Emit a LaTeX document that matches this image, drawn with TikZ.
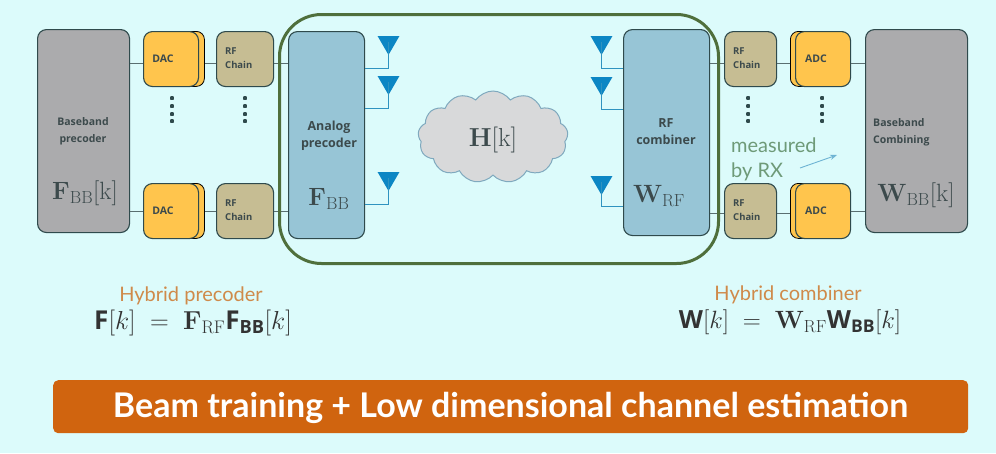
\RequirePackage{fix-cm}
\documentclass[tikz,border=0pt]{standalone}
\usepackage[no-math]{fontspec}
\usepackage{amsmath}
\setmainfont{Lato}
\setsansfont{Open Sans}
\usetikzlibrary{shapes.symbols,shapes.geometric,arrows.meta}
\definecolor{bgc}{HTML}{DCFBFB}
\definecolor{edgec}{HTML}{2F4A4C}
\definecolor{greyc}{HTML}{ABABAD}
\definecolor{dacc}{HTML}{FFC54D}
\definecolor{rfc}{HTML}{C6BD93}
\definecolor{bluec}{HTML}{97C5D6}
\definecolor{antc}{HTML}{0C86C4}
\definecolor{wirec}{HTML}{2F93C0}
\definecolor{greenc}{HTML}{4F6F3C}
\definecolor{orangec}{HTML}{D0640F}
\definecolor{labc}{HTML}{3C4A4C}
\definecolor{hybc}{HTML}{CF8A4A}
\definecolor{measc}{HTML}{6E9A78}
\definecolor{cloudc}{HTML}{D8D9DA}
\definecolor{cloude}{HTML}{7FA9BE}
\tikzset{
 x=1pt,y=-1pt,
 blockbox/.style={draw=edgec,line width=1.1pt,rounded corners=9pt,inner sep=0pt,anchor=north west},
 greybox/.style={blockbox,fill=greyc},
 rfbox/.style={blockbox,fill=rfc,minimum width=57pt,minimum height=55pt},
 convback/.style={draw=black,line width=.8pt,fill=dacc,rounded corners=8pt,inner sep=0pt,anchor=north west,minimum height=55pt},
 convfront/.style={blockbox,fill=dacc,minimum height=55pt},
 bluebox/.style={blockbox,fill=bluec},
 link/.style={draw=edgec!80,line width=.9pt},
 wire/.style={draw=wirec,line width=1pt},
 antshape/.style={draw=none,fill=antc,regular polygon,regular polygon sides=3,shape border rotate=180,inner sep=0pt,minimum size=24pt,anchor=north},
 tinylab/.style={font=\sffamily\bfseries\fontsize{9.5}{14}\selectfont,text=labc,align=left,inner sep=0pt},
 baselab/.style={font=\sffamily\bfseries\fontsize{10.5}{17}\selectfont,text=labc,inner sep=0pt},
 midlab/.style={font=\sffamily\bfseries\fontsize{12.5}{17}\selectfont,text=labc,align=center,inner sep=0pt},
 bigmath/.style={inner sep=0pt,text=labc},
 dotc/.style={draw=none,fill=edgec,rectangle,rounded corners=.8pt,minimum size=3.8pt,inner sep=0pt},
}
\begin{document}
\begin{tikzpicture}
\useasboundingbox (0,0) rectangle (996,453);
\fill[bgc] (0,0) rectangle (996,453);
% left column
\node[greybox,minimum width=92pt,minimum height=203pt] (bbl) at (37,29) {};
\node[convback,minimum width=58pt] (dacbA) at (146,31) {};
\node[convfront,minimum width=55pt] (dacA) at (143,31) {};
\node[convback,minimum width=58pt] (dacbB) at (146,183) {};
\node[convfront,minimum width=55pt] (dacB) at (143,183) {};
\node[rfbox] (rflA) at (216,31) {};
\node[rfbox] (rflB) at (216,183) {};
\node[bluebox,minimum width=76pt,minimum height=207pt] (ana) at (288,31) {};
% right column
\node[bluebox,minimum width=86pt,minimum height=206pt] (comb) at (623,29) {};
\node[rfbox,minimum width=52pt] (rfrA) at (724,31) {};
\node[rfbox,minimum width=52pt] (rfrB) at (724,183) {};
\node[convback,minimum width=58pt] (adcbA) at (790,31) {};
\node[convfront,minimum width=55pt] (adcA) at (795,31) {};
\node[convback,minimum width=58pt] (adcbB) at (790,183) {};
\node[convfront,minimum width=55pt] (adcB) at (795,183) {};
\node[greybox,minimum width=102pt,minimum height=203pt] (bbr) at (865,29) {};
% links
\foreach \a/\b/\yy in {bbl/dacA/63,bbl/dacB/211,dacbA/rflA/63,dacbB/rflB/211,rflA/ana/63,rflB/ana/211,comb/rfrA/63,comb/rfrB/213,rfrA/adcbA/63,rfrB/adcbB/213,adcA/bbr/63,adcB/bbr/211}{
 \coordinate (p) at (0,\yy);
 \draw[link] (\a.east |- p) -- (\b.west |- p);
}
% green frame
\node[draw=greenc,line width=3pt,rounded corners=42pt,minimum width=439pt,minimum height=249pt,inner sep=0pt,anchor=north west] (frame) at (278,13) {};
% antennas left
\foreach \n/\yt/\yl in {A/37/68,B/77/108,C/173/204}{
 \node[antshape,minimum size=25pt] (tx\n) at (388.5,\yt-1) {};
 \coordinate (txk\n) at (388.5,\yl);
 \draw[wire] (tx\n.center) -- (txk\n) -- (ana.east |- txk\n);
}
\foreach \n/\yt/\yl in {A/37/68,B/78/109,C/177/206}{
 \node[antshape,minimum size=25pt] (rx\n) at (601.5,\yt-1) {};
 \coordinate (rxk\n) at (601.5,\yl);
 \draw[wire] (rx\n.center) -- (rxk\n) -- (comb.west |- rxk\n);
}
% dots
\foreach \xx/\nm in {172/a,245/b,748/c,822/d}{
 \foreach \yy in {98,106,114,121}{ \node[dotc] (dot\nm\yy) at (\xx,\yy) {}; }
}
% cloud
\node[cloud,cloud puffs=13,cloud puff arc=110,aspect=1.6,draw=cloude,line width=1pt,fill=cloudc,minimum width=150pt,minimum height=92pt,inner sep=0pt] (chan) at (493,137) {};
\node[inner sep=0pt,text=labc] (chanlab) at (493,140) {\fontsize{26}{26}\selectfont$\mathbf{H}[\mathrm{k}]$};
% texts
\node[baselab,align=center] (lbase) at (83,131) {Baseband\\precoder};
\node[bigmath] (lfbb) at (85,193) {\fontsize{25}{25}\selectfont$\mathbf{F}_{\mathrm{BB}}[\mathrm{k}]$};
\node[baselab] at (163,59) (ldacA) {DAC};
\node[baselab] at (163,211) (ldacB) {DAC};
\node[tinylab,anchor=west] at (225,58) (lrfA) {RF\\Chain};
\node[tinylab,anchor=west] at (225,210) (lrfB) {RF\\Chain};
\node[midlab] at (329,136) (lana) {Analog\\precoder};
\node[bigmath] at (329,199) (lfrf) {\fontsize{25}{25}\selectfont$\mathbf{F}_{\mathrm{BB}}$};
\node[midlab] at (666,132) (lcomb) {RF\\combiner};
\node[bigmath] at (659,196) (lwrf) {\fontsize{25}{25}\selectfont$\mathbf{W}_{\mathrm{RF}}$};
\node[tinylab,anchor=west] at (733,58) (lrrA) {RF\\Chain};
\node[tinylab,anchor=west] at (733,210) (lrrB) {RF\\Chain};
\node[baselab] at (816,59) (ladcA) {ADC};
\node[baselab] at (816,211) (ladcB) {ADC};
\node[baselab,anchor=west,align=left] at (873,132) (lbbc) {Baseband\\Combining};
\node[bigmath] at (916,195) (lwbb) {\fontsize{25}{25}\selectfont$\mathbf{W}_{\mathrm{BB}}[\mathrm{k}]$};
% measured
\node[text=measc,font=\fontsize{20}{25}\selectfont,align=left,inner sep=0pt,anchor=west] (meas) at (731,159) {measured\\by RX};
\coordinate (mA) at (800,168);
\coordinate (mB) at (837,155);
\draw[-{Stealth[length=7pt,open]},draw=wirec!70,line width=.9pt] (mA) -- (mB);
% hybrid
\node[text=hybc,font=\fontsize{20}{22}\selectfont,inner sep=0pt] (hp) at (191,296) {Hybrid precoder};
\node[text=black!80,inner sep=0pt] (hpf) at (193,323) {\fontsize{26}{26}\selectfont$\textbf{\sffamily F}[k]\;=\;\mathbf{F}_{\mathrm{RF}}\textbf{\sffamily F}_{\textbf{\sffamily BB}}[k]$};
\node[text=hybc,font=\fontsize{20}{22}\selectfont,inner sep=0pt] (hc) at (788,295) {Hybrid combiner};
\node[text=black!80,inner sep=0pt] (hcf) at (790,322) {\fontsize{25}{25}\selectfont$\textbf{\sffamily W}[k]\;=\;\mathbf{W}_{\mathrm{RF}}\textbf{\sffamily W}_{\textbf{\sffamily BB}}[k]$};
% banner
\node[fill=orangec,rounded corners=5pt,minimum width=915pt,minimum height=53pt,inner sep=0pt,anchor=north west] (ban) at (53,380) {};
\node[text=white,font=\bfseries\fontsize{34}{36}\selectfont,inner sep=0pt] (bantext) at (510.5,408) {Beam training + Low dimensional channel estimation};
\end{tikzpicture}
\end{document}
